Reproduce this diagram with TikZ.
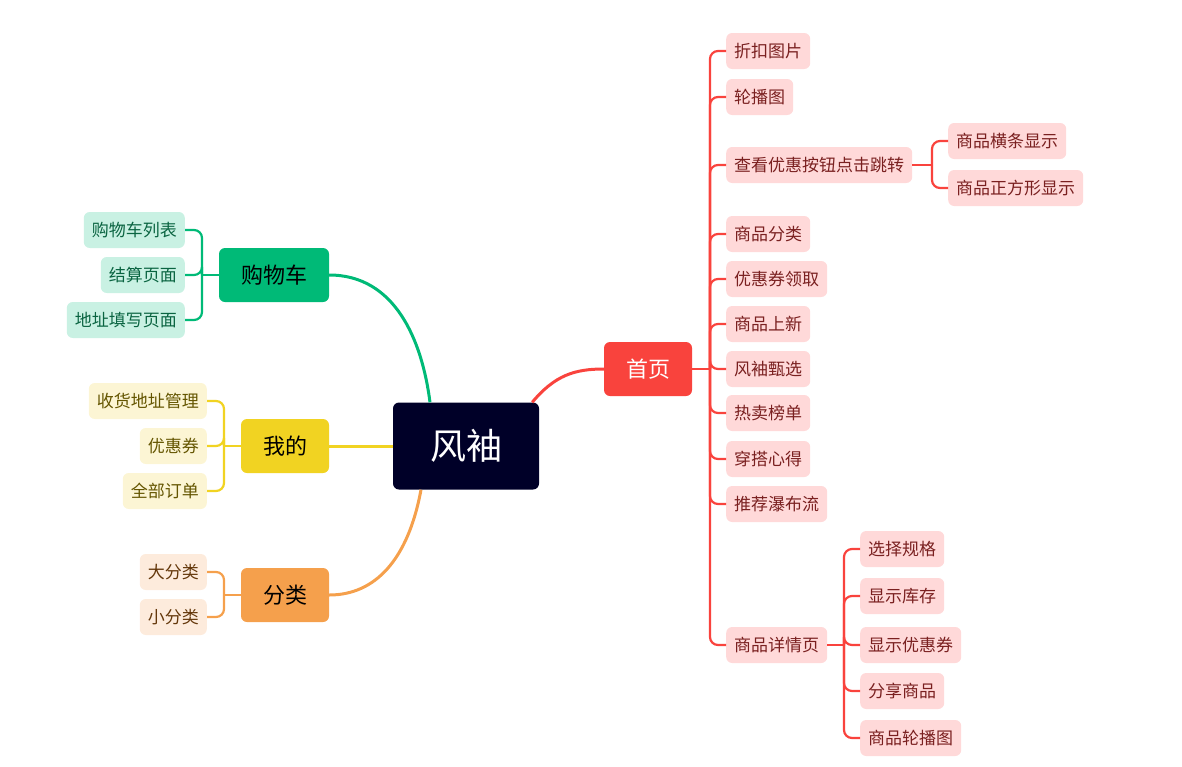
\documentclass[tikz,border=0pt]{standalone}
\usepackage{fontspec}
\setmainfont{Noto Sans CJK SC}
\definecolor{navy}{RGB}{0,0,40}
\definecolor{hred}{RGB}{249,67,61}
\definecolor{lred}{RGB}{255,217,217}
\definecolor{dred}{RGB}{122,32,32}
\definecolor{hgreen}{RGB}{0,186,119}
\definecolor{lgreen}{RGB}{201,241,227}
\definecolor{dgreen}{RGB}{10,100,65}
\definecolor{hyellow}{RGB}{241,211,34}
\definecolor{lyellow}{RGB}{252,245,212}
\definecolor{dyellow}{RGB}{100,85,0}
\definecolor{horange}{RGB}{245,160,76}
\definecolor{lorange}{RGB}{253,235,220}
\definecolor{dorange}{RGB}{100,55,10}
\tikzset{
  root/.style={fill=navy, text=white, rounded corners=6pt, minimum height=87pt,
    inner xsep=37pt, font=\fontsize{36}{36}\selectfont},
  topic/.style={rounded corners=6pt, minimum height=54pt, inner xsep=22pt,
    font=\fontsize{22}{22}\selectfont},
  leaf/.style={rounded corners=6pt, minimum height=36pt, inner xsep=8pt,
    font=\fontsize{17}{17}\selectfont},
  branch/.style={line width=3pt},
  twig/.style={line width=2.2pt, rounded corners=8pt},
}
\begin{document}
\begin{tikzpicture}[x=1pt, y=-1pt]
    \useasboundingbox (0,0) rectangle (1182,766);
    % 中心主题
    \node[root] (fx) at (466,446) {风袖};
    % 首页
    \node[topic, fill=hred, text=white] (sy) at (648,369) {首页};
    \draw[branch, hred] ([xshift=-7pt]fx.north east) .. controls (555,375) and (575,369) .. (sy.west);
    \coordinate (syj) at (710,369);
    \draw[twig, hred] (sy.east) -- (syj);
    \foreach \t/\y [count=\i] in {折扣图片/51, 轮播图/97, 查看优惠按钮点击跳转/165, 商品分类/234,
        优惠券领取/279, 商品上新/324, 风袖甄选/369, 热卖榜单/413, 穿搭心得/459,
        推荐瀑布流/504, 商品详情页/645} {
        \node[leaf, fill=lred, text=dred, anchor=west] (sy\i) at (726,\y) {\t};
        \draw[twig, hred] (syj) |- (sy\i.west);
    }
    \coordinate (ckj) at (932,165);
    \draw[twig, hred] (sy3.east) -- (ckj);
    \foreach \t/\y [count=\i] in {商品横条显示/141, 商品正方形显示/188} {
        \node[leaf, fill=lred, text=dred, anchor=west] (ck\i) at (948,\y) {\t};
        \draw[twig, hred] (ckj) |- (ck\i.west);
    }
    \coordinate (xqj) at (844,645);
    \draw[twig, hred] (sy11.east) -- (xqj);
    \foreach \t/\y [count=\i] in {选择规格/549, 显示库存/596, 显示优惠券/645, 分享商品/691, 商品轮播图/738} {
        \node[leaf, fill=lred, text=dred, anchor=west] (xq\i) at (860,\y) {\t};
        \draw[twig, hred] (xqj) |- (xq\i.west);
    }
    % 购物车
    \node[topic, fill=hgreen] (gwc) at (274,275) {购物车};
    \draw[branch, hgreen] (gwc.east) .. controls (395,275) and (422,340) .. ([xshift=-36pt]fx.north);
    \coordinate (gwcj) at (202,275);
    \draw[twig, hgreen] (gwc.west) -- (gwcj);
    \foreach \t/\y [count=\i] in {购物车列表/230, 结算页面/275, 地址填写页面/320} {
        \node[leaf, fill=lgreen, text=dgreen, anchor=east] (gwc\i) at (185,\y) {\t};
        \draw[twig, hgreen] (gwcj) |- (gwc\i.east);
    }
    % 我的
    \node[topic, fill=hyellow] (wd) at (285,446) {我的};
    \draw[branch, hyellow] (wd.east) -- (fx.west);
    \coordinate (wdj) at (224,446);
    \draw[twig, hyellow] (wd.west) -- (wdj);
    \foreach \t/\y [count=\i] in {收货地址管理/401, 优惠券/446, 全部订单/491} {
        \node[leaf, fill=lyellow, text=dyellow, anchor=east] (wd\i) at (207,\y) {\t};
        \draw[twig, hyellow] (wdj) |- (wd\i.east);
    }
    % 分类
    \node[topic, fill=horange] (fl) at (285,595) {分类};
    \draw[branch, horange] ([xshift=-45pt]fx.south) .. controls (408,560) and (375,595) .. (fl.east);
    \coordinate (flj) at (224,595);
    \draw[twig, horange] (fl.west) -- (flj);
    \foreach \t/\y [count=\i] in {大分类/572, 小分类/617} {
        \node[leaf, fill=lorange, text=dorange, anchor=east] (fl\i) at (207,\y) {\t};
        \draw[twig, horange] (flj) |- (fl\i.east);
    }
\end{tikzpicture}
\end{document}
